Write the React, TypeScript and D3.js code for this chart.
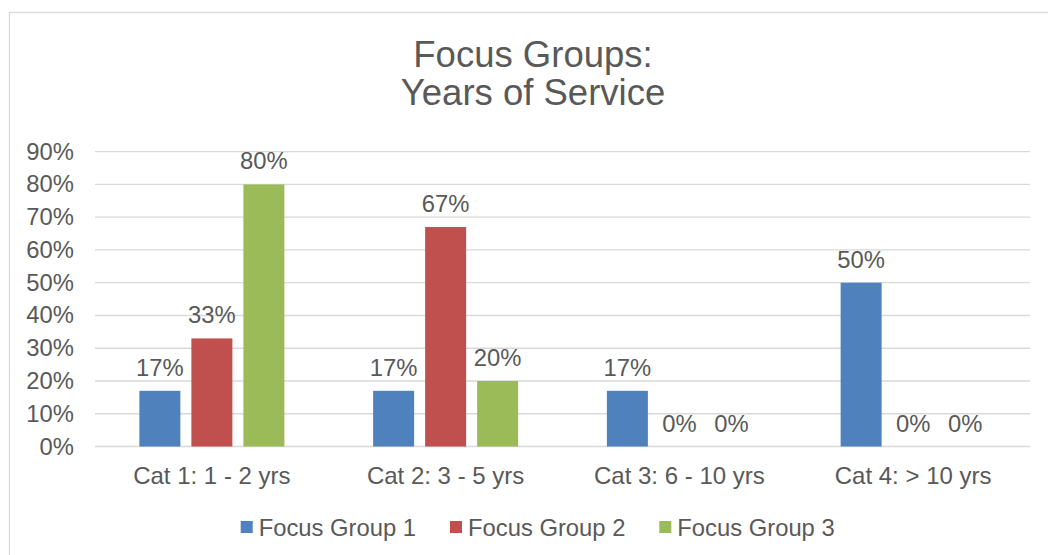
import React, { useEffect, useRef } from 'react';
import * as d3 from 'd3';

const categories = ['Cat 1: 1 - 2 yrs', 'Cat 2: 3 - 5 yrs', 'Cat 3: 6 - 10 yrs', 'Cat 4: > 10 yrs'];
const seriesNames = ['Focus Group 1', 'Focus Group 2', 'Focus Group 3'];
const group1 = [0.17, 0.17, 0.17, 0.5];
const group2 = [0.33, 0.67, 0, 0];
const group3 = [0.8, 0.2, 0, 0];
const seriesColors = ['#4F81BD', '#C0504D', '#9BBB59'];
const yTicks = [0, 0.1, 0.2, 0.3, 0.4, 0.5, 0.6, 0.7, 0.8, 0.9];
const titleLines = ['Focus Groups:', 'Years of Service'];

export default function App() {
  const svgRef = useRef<SVGSVGElement | null>(null);

  useEffect(() => {
    if (!svgRef.current) return;
    d3.select(svgRef.current).selectAll('*').remove();

    const width = 1048;
    const height = 555;
    const font = '"Liberation Sans", Arial, sans-serif';
    const textColor = '#595959';
    const values = [group1, group2, group3];

    const svg = d3.select(svgRef.current)
      .attr('width', width)
      .attr('height', height)
      .style('font-family', font);

    // chart frame, runs off the right and bottom edges
    svg.append('rect')
      .attr('x', 9.5).attr('y', 12.5)
      .attr('width', 1100).attr('height', 600)
      .attr('fill', '#fff')
      .attr('stroke', '#D9D9D9')
      .attr('stroke-width', 1.3);

    // title
    svg.append('g').selectAll('text')
      .data(titleLines)
      .join('text')
      .attr('x', 533)
      .attr('y', (_d, i) => 66.5 + i * 38.5)
      .attr('text-anchor', 'middle')
      .attr('font-size', 36.5)
      .attr('fill', textColor)
      .text(d => d);

    const x = d3.scaleBand<string>()
      .domain(categories)
      .range([95, 1030]);

    const y = d3.scaleLinear()
      .domain([0, 0.9])
      .range([446.5, 151.7]);

    // gridlines
    svg.append('g').selectAll('line')
      .data(yTicks)
      .join('line')
      .attr('x1', 95).attr('x2', 1030)
      .attr('y1', d => y(d)).attr('y2', d => y(d))
      .attr('stroke', '#D9D9D9')
      .attr('stroke-width', 1.3);

    // y tick labels
    const pct = d3.format('.0%');
    svg.append('g').selectAll('text')
      .data(yTicks)
      .join('text')
      .attr('x', 74)
      .attr('y', d => y(d) + 8)
      .attr('text-anchor', 'end')
      .attr('font-size', 23.8)
      .attr('fill', textColor)
      .text(d => pct(d));

    // bars
    const barWidth = 41;
    const barStep = 52;
    const barX = (cat: string, s: number) =>
      (x(cat) ?? 0) + x.bandwidth() / 2 + (s - 1) * barStep - barWidth / 2;

    values.forEach((vals, s) => {
      const g = svg.append('g');
      g.selectAll('rect')
        .data(vals)
        .join('rect')
        .attr('x', (_d, i) => barX(categories[i], s))
        .attr('y', d => y(d))
        .attr('width', barWidth)
        .attr('height', d => y(0) - y(d))
        .attr('fill', seriesColors[s]);

      g.selectAll('text')
        .data(vals)
        .join('text')
        .attr('x', (_d, i) => barX(categories[i], s) + barWidth / 2)
        .attr('y', d => y(d) - 15)
        .attr('text-anchor', 'middle')
        .attr('font-size', 23.8)
        .attr('fill', textColor)
        .text(d => pct(d));
    });

    // category labels
    svg.append('g').selectAll('text')
      .data(categories)
      .join('text')
      .attr('x', d => (x(d) ?? 0) + x.bandwidth() / 2)
      .attr('y', 484)
      .attr('text-anchor', 'middle')
      .attr('font-size', 24)
      .attr('fill', textColor)
      .text(d => d);

    // legend
    const legend = svg.append('g').selectAll('g')
      .data(seriesNames)
      .join('g')
      .attr('transform', (_d, i) => `translate(${240.7 + i * 209.3},0)`);

    legend.append('rect')
      .attr('x', 0).attr('y', 521)
      .attr('width', 12).attr('height', 12)
      .attr('fill', (_d, i) => seriesColors[i]);

    legend.append('text')
      .attr('x', 18)
      .attr('y', 535.5)
      .attr('font-size', 23.8)
      .attr('fill', textColor)
      .text(d => d);
  }, []);

  return (
    <div style={{ position: 'fixed', left: 0, top: 0 }}>
      <svg ref={svgRef} style={{ display: 'block' }}></svg>
    </div>
  );
}
